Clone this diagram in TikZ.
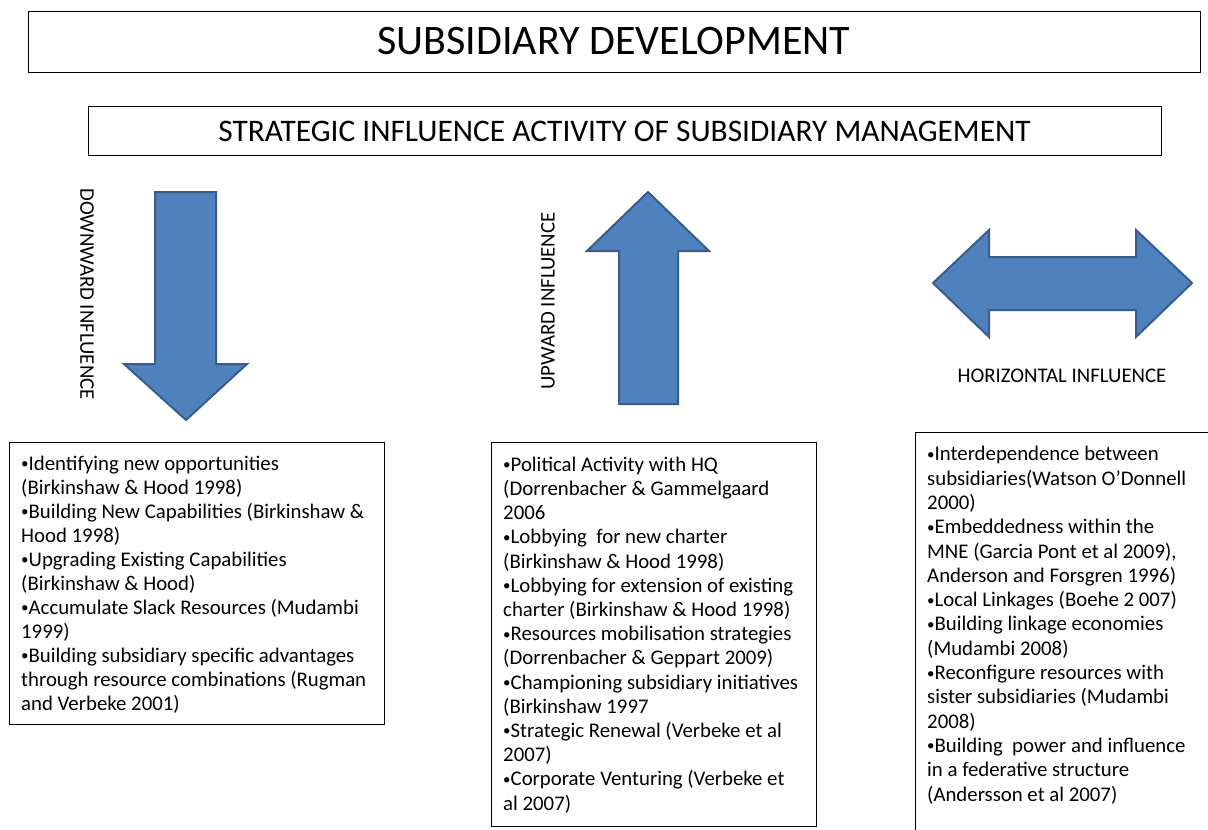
\documentclass[tikz,border=0pt]{standalone}
\usepackage{fontspec}
\setmainfont{Carlito}
\definecolor{arrowfill}{HTML}{4F81BD}
\definecolor{arrowline}{HTML}{385D8A}
\newcommand{\mybul}{{\fontsize{15}{15}\selectfont\raisebox{0.1em}{•}}}
\begin{document}
\begin{tikzpicture}[x=1pt,y=-1pt,
  box/.style={draw=black, line width=1pt, inner sep=0pt},
  blockarrow/.style={fill=arrowfill, draw=arrowline, line width=2pt, line join=miter},
  listtext/.style={anchor=base west, inner sep=0pt, align=left},
  lbl/.style={inner sep=0pt, font=\fontsize{20.8}{24}\selectfont}]
\useasboundingbox (0,0) rectangle (1208,830);
\clip (0,0) rectangle (1208,830);
\fill[white] (0,0) rectangle (1208,830);
% title boxes
\node[box, minimum width=1172pt, minimum height=61pt, font=\fontsize{42}{42}\selectfont] (title) at (614,41.5) {SUBSIDIARY DEVELOPMENT};
\node[box, minimum width=1073pt, minimum height=49pt, font=\fontsize{31.4}{32}\selectfont] (strategic) at (624.5,131) {STRATEGIC INFLUENCE ACTIVITY OF SUBSIDIARY MANAGEMENT};
% arrows
\draw[blockarrow] (155,192) -- (216,192) -- (216,364) -- (247,364) -- (186,420) -- (124,364) -- (155,364) -- cycle;
\draw[blockarrow] (648,192) -- (709,251) -- (678,251) -- (678,404) -- (619,404) -- (619,251) -- (587,251) -- cycle;
\draw[blockarrow] (933,283) -- (989,230) -- (989,257) -- (1136,257) -- (1136,230) -- (1192,283) -- (1136,337) -- (1136,310) -- (989,310) -- (989,337) -- cycle;
% labels
\node[lbl, rotate=-90] (down) at (87,294) {DOWNWARD INFLUENCE};
\node[lbl, rotate=90] (up) at (548,301) {UPWARD INFLUENCE};
\node[lbl] (horiz) at (1062,376) {HORIZONTAL INFLUENCE};
% list boxes
\node[box, anchor=north west, minimum width=375pt, minimum height=282pt] (leftbox) at (9,442) {};
\node[box, anchor=north west, minimum width=325pt, minimum height=384pt] (midbox) at (491,442) {};
\node[box, anchor=north west, minimum width=320pt, minimum height=420pt] (rightbox) at (915,432) {};
\node[listtext, font=\fontsize{20.8}{24}\selectfont] (lefttext) at (21,710) {%
\mybul Identifying new opportunities\\
(Birkinshaw \& Hood 1998)\\
\mybul Building New Capabilities (Birkinshaw \&\\
Hood 1998)\\
\mybul Upgrading Existing Capabilities\\
(Birkinshaw \& Hood)\\
\mybul Accumulate Slack Resources (Mudambi\\
1999)\\
\mybul Building subsidiary specific advantages\\
through resource combinations (Rugman\\
and Verbeke 2001)};
\node[listtext, font=\fontsize{20.8}{24.2}\selectfont] (midtext) at (503,810) {%
\mybul Political Activity with HQ\\
(Dorrenbacher \& Gammelgaard\\
2006\\
\mybul Lobbying\ \ for new charter\\
(Birkinshaw \& Hood 1998)\\
\mybul Lobbying for extension of existing\\
charter (Birkinshaw \& Hood 1998)\\
\mybul Resources mobilisation strategies\\
(Dorrenbacher \& Geppart 2009)\\
\mybul Championing subsidiary initiatives\\
(Birkinshaw 1997\\
\mybul Strategic Renewal (Verbeke et al\\
2007)\\
\mybul Corporate Venturing (Verbeke et\\
al 2007)};
\node[listtext, font=\fontsize{20.8}{24.3}\selectfont] (righttext) at (927,801) {%
\mybul Interdependence between\\
subsidiaries(Watson O’Donnell\\
2000)\\
\mybul Embeddedness within the\\
MNE (Garcia Pont et al 2009),\\
Anderson and Forsgren 1996)\\
\mybul Local Linkages (Boehe 2 007)\\
\mybul Building linkage economies\\
(Mudambi 2008)\\
\mybul Reconfigure resources with\\
sister subsidiaries (Mudambi\\
2008)\\
\mybul Building\ \ power and influence\\
in a federative structure\\
(Andersson et al 2007)};
\end{tikzpicture}
\end{document}
